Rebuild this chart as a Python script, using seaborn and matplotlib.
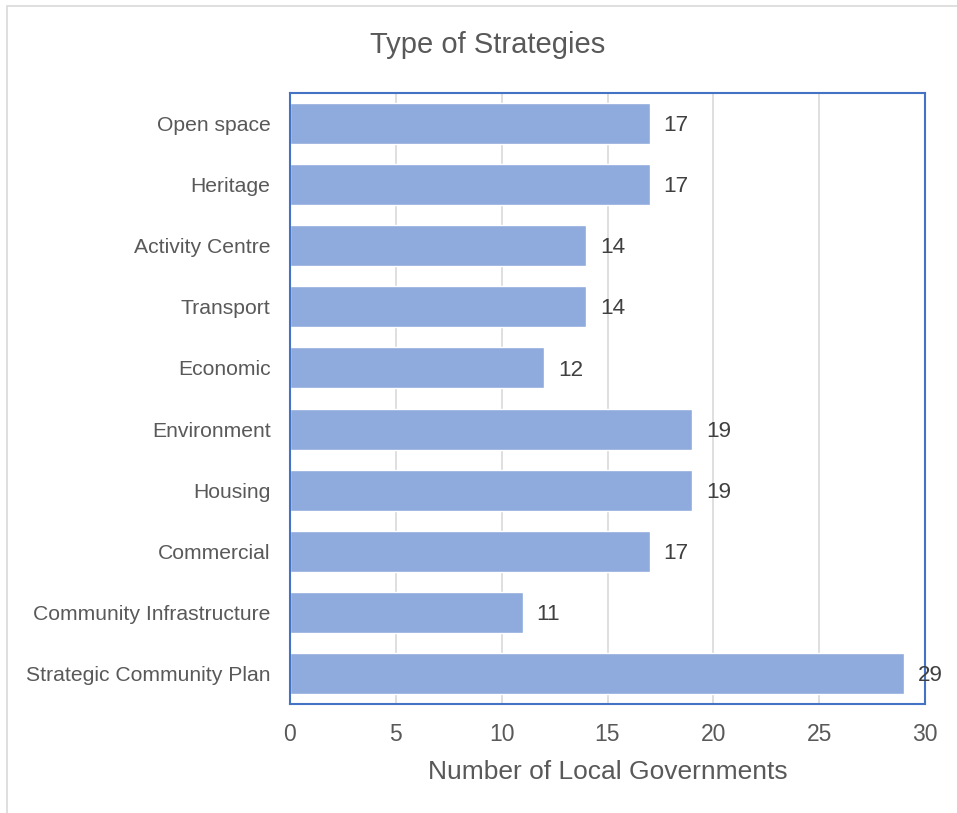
import matplotlib
matplotlib.use("Agg")
import matplotlib.pyplot as plt
import seaborn as sns
import pandas as pd
from matplotlib.patches import Rectangle

categories = [
    "Open space", "Heritage", "Activity Centre", "Transport", "Economic",
    "Environment", "Housing", "Commercial", "Community Infrastructure",
    "Strategic Community Plan",
]
counts = [17, 17, 14, 14, 12, 19, 19, 17, 11, 29]
x_ticks = [0, 5, 10, 15, 20, 25, 30]

df = pd.DataFrame({"Strategy": categories, "Count": counts})

sns.set_theme(style="white")
plt.rcParams["font.family"] = ["Liberation Sans", "DejaVu Sans"]

fig = plt.figure(figsize=(9.57, 8.13), dpi=100)
fig.patch.set_facecolor("white")
# outer chart frame
fig.patches.append(Rectangle((7 / 957, -0.01), 1.02, 1 - 6 / 813 + 0.01,
                             transform=fig.transFigure, fill=False,
                             edgecolor="#D9D9D9", linewidth=1.2))

ax = fig.add_axes([290 / 957, 1 - 704 / 813, 635 / 957, 611 / 813])
sns.barplot(data=df, x="Count", y="Strategy", orient="h", color="#8FAADC",
            saturation=1, width=0.67, ax=ax, zorder=2)

ax.set_xlim(0, 30)
ax.set_xticks(x_ticks)
ax.set_xticklabels([str(t) for t in x_ticks])
ax.xaxis.grid(True, color="#D9D9D9", linewidth=1.2, zorder=0)
ax.set_axisbelow(True)
for s in ax.spines.values():
    s.set_visible(True)
    s.set_color("#4472C4")
    s.set_linewidth(1.5)

ax.tick_params(axis="both", length=0, colors="#595959")
ax.tick_params(axis="y", labelsize=15.2, pad=14)
ax.tick_params(axis="x", labelsize=16.5, pad=14)
ax.set_ylabel("")
ax.set_xlabel("Number of Local Governments", fontsize=19, color="#595959",
              labelpad=10)

for i, v in enumerate(counts):
    ax.annotate(str(v), xy=(v, i), xytext=(10, -1.5), textcoords="offset points",
                va="center", ha="left", fontsize=16.2, color="#404040",
                annotation_clip=False, zorder=5)

fig.text(488 / 957, 1 - 45 / 813, "Type of Strategies", ha="center",
         va="center", fontsize=21, color="#595959")

fig.savefig("out.png", dpi=100)
